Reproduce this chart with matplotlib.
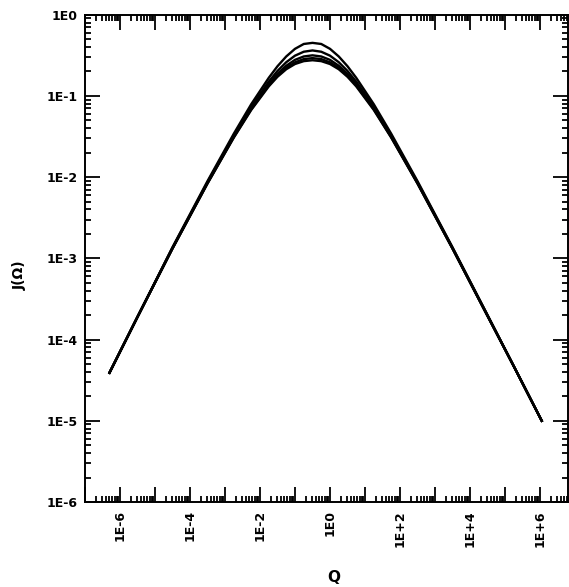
import numpy as np
import matplotlib
matplotlib.use("Agg")
import matplotlib.pyplot as plt
from matplotlib.ticker import FixedLocator, LogLocator, NullFormatter, FuncFormatter

# Q grid, shared by all curves
q = [5.0e-7, 3.16e-6, 3.16e-5, 3.16e-4, 1.78e-3, 5.62e-3, 1.78e-2, 3.16e-2,
     5.62e-2, 0.1, 0.178, 0.316, 0.562, 1.0, 1.78, 3.16, 5.62, 17.8, 56.2,
     316.0, 3160.0, 3.16e4, 1.78e5, 1.12e6]

# J(Q) for the five curves, highest peak first
j1 = [3.9e-5, 1.9e-4, 1.37e-3, 8.93e-3, 3.42e-2, 7.91e-2, 0.167, 0.232,
      0.306, 0.380, 0.436, 0.450, 0.436, 0.380, 0.306, 0.232, 0.167, 7.91e-2,
      3.42e-2, 8.93e-3, 1.37e-3, 2.01e-4, 4.7e-5, 1.0e-5]
j2 = [3.9e-5, 1.9e-4, 1.35e-3, 8.65e-3, 3.25e-2, 7.34e-2, 0.150, 0.203,
      0.260, 0.313, 0.350, 0.363, 0.350, 0.313, 0.260, 0.203, 0.150, 7.34e-2,
      3.25e-2, 8.65e-3, 1.35e-3, 1.99e-4, 4.7e-5, 1.0e-5]
j3 = [3.9e-5, 1.9e-4, 1.33e-3, 8.49e-3, 3.15e-2, 7.03e-2, 0.140, 0.187,
      0.235, 0.278, 0.306, 0.316, 0.306, 0.278, 0.235, 0.187, 0.140, 7.03e-2,
      3.15e-2, 8.49e-3, 1.33e-3, 1.97e-4, 4.7e-5, 1.0e-5]
j4 = [3.9e-5, 1.9e-4, 1.32e-3, 8.40e-3, 3.10e-2, 6.85e-2, 0.135, 0.178,
      0.222, 0.259, 0.284, 0.292, 0.284, 0.259, 0.222, 0.178, 0.135, 6.85e-2,
      3.10e-2, 8.40e-3, 1.32e-3, 1.96e-4, 4.7e-5, 1.0e-5]
j5 = [3.9e-5, 1.9e-4, 1.32e-3, 8.33e-3, 3.06e-2, 6.72e-2, 0.131, 0.172,
      0.213, 0.247, 0.268, 0.275, 0.268, 0.247, 0.213, 0.172, 0.131, 6.72e-2,
      3.06e-2, 8.33e-3, 1.32e-3, 1.95e-4, 4.7e-5, 1.0e-5]

curves = [j1, j2, j3, j4, j5]

x_decades = list(range(-7, 7))
x_labeled = [-6, -4, -2, 0, 2, 4, 6]
y_decades = list(range(-6, 1))


def x_fmt(val, pos):
    e = int(round(np.log10(val)))
    if e not in x_labeled:
        return ""
    if e == 0:
        return "1E0"
    return "1E%+d" % e


def y_fmt(val, pos):
    e = int(round(np.log10(val)))
    return "1E%d" % e


fig = plt.figure(figsize=(5.69, 5.87), dpi=100)
ax = fig.add_axes([85 / 569, 1 - 502 / 587, 483 / 569, 487.3 / 587])

for jj in curves:
    ax.plot(q, jj, color="black", lw=1.7, solid_joinstyle="round")

ax.set_xscale("log")
ax.set_yscale("log")
ax.set_xlim(1e-7, 10 ** 6.8)
ax.set_ylim(1e-6, 1.0)

ax.xaxis.set_major_locator(FixedLocator([10.0 ** e for e in x_decades]))
ax.xaxis.set_minor_locator(LogLocator(base=10, subs=np.arange(2, 10), numticks=30))
ax.xaxis.set_major_formatter(FuncFormatter(x_fmt))
ax.xaxis.set_minor_formatter(NullFormatter())
ax.yaxis.set_major_locator(FixedLocator([10.0 ** e for e in y_decades]))
ax.yaxis.set_minor_locator(LogLocator(base=10, subs=np.arange(2, 10), numticks=30))
ax.yaxis.set_major_formatter(FuncFormatter(y_fmt))
ax.yaxis.set_minor_formatter(NullFormatter())

ax.tick_params(which="both", direction="in", top=True, right=True, width=1.3)
ax.tick_params(which="major", length=11)
ax.tick_params(which="minor", length=4.5)
ax.tick_params(axis="x", which="major", pad=6, labelrotation=90)
ax.tick_params(axis="y", which="major", pad=5)

for lab in ax.get_xticklabels() + ax.get_yticklabels():
    lab.set_fontsize(9)
    lab.set_fontweight("bold")

for sp in ax.spines.values():
    sp.set_linewidth(1.4)

fig.text(20 / 569, 1 - 275 / 587, "J(Ω)", rotation=90, ha="center", va="center",
         fontsize=10, fontweight="bold")
fig.text(334 / 569, 1 - 578 / 587, "Q", ha="center", va="center",
         fontsize=11, fontweight="bold")

fig.savefig("out.png", dpi=100)
